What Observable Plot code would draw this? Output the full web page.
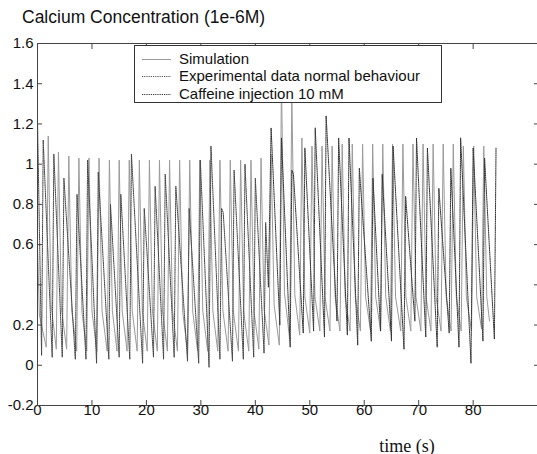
<!DOCTYPE html>
<html><head><meta charset="utf-8">
<script src="https://cdn.jsdelivr.net/npm/d3@7"></script>
<script src="https://cdn.jsdelivr.net/npm/@observablehq/plot@0.6"></script>
<style>
html,body{margin:0;padding:0;background:#fff}
body{width:537px;height:454px;overflow:hidden;position:relative;font-family:"Liberation Sans",Arial,sans-serif;color:#111}
#title{position:absolute;left:22px;top:9px;font-size:17.5px;line-height:1;white-space:nowrap}
#chart{position:absolute;left:0;top:30px}
#legend{position:absolute;left:134px;top:45px;width:308px;height:58px;border:1px solid #333;background:#fff;box-sizing:border-box}
#legend .row{position:absolute;left:0;height:18px;width:300px}
#legend svg{position:absolute;left:7px;top:8px}
#legend span{position:absolute;left:44px;top:0;font-size:15px;line-height:18px;white-space:nowrap}
</style>
</head><body>
<div id="title"></div>
<div id="chart"></div>
<div id="legend"></div>
<script>
// time (s), calcium concentration (1e-6 M)
const simulation = [
[0,0.60],[0.35,0.25],[1.6,0.09],
[1.97,1.14],[2.5,0.30],[3.45,0.08],
[3.85,1.06],[4.4,0.28],[5.35,0.08],
[5.75,1.04],[6.3,0.27],[7.2,0.07],
[7.6,1.03],[8.15,0.27],[9.05,0.07],
[9.45,1.03],[10.0,0.27],[10.9,0.07],
[11.3,1.03],[11.85,0.27],[12.8,0.07],
[13.2,1.02],[13.75,0.27],[14.6,0.07],
[15.0,1.02],[15.55,0.27],[16.45,0.07],
[16.85,1.02],[17.4,0.27],[18.3,0.07],
[18.7,1.02],[19.25,0.27],[20.15,0.07],
[20.55,1.02],[21.1,0.27],[22.0,0.07],
[22.4,1.02],[22.95,0.27],[23.85,0.07],
[24.25,1.02],[24.8,0.27],[25.7,0.07],
[26.1,1.02],[26.65,0.27],[27.55,0.07],
[27.95,1.02],[28.5,0.27],[29.4,0.07],
[29.8,1.02],[30.35,0.27],[31.25,0.07],
[31.65,1.02],[32.2,0.27],[33.1,0.07],
[33.5,1.02],[34.05,0.27],[35.0,0.07],
[35.4,1.02],[35.95,0.27],[36.9,0.07],
[37.3,1.02],[37.85,0.27],[38.8,0.07],
[39.2,1.02],[39.75,0.27],[40.65,0.08],
[41.05,1.03],[41.6,0.28],[42.5,0.10],
[42.9,1.05],[43.45,0.30],[44.4,0.10],
[44.8,1.42],[45.35,0.36],[46.3,0.13],
[46.7,1.35],[47.25,0.35],[48.15,0.15],
[48.55,1.13],[49.1,0.34],[50.0,0.16],
[50.4,1.09],[50.95,0.34],[51.85,0.17],
[52.25,1.09],[52.8,0.34],[53.7,0.17],
[54.1,1.09],[54.65,0.34],[55.55,0.17],
[55.95,1.10],[56.5,0.34],[57.4,0.17],
[57.8,1.10],[58.35,0.34],[59.3,0.17],
[59.7,1.10],[60.25,0.34],[61.15,0.17],
[61.55,1.10],[62.1,0.34],[63.0,0.17],
[63.4,1.10],[63.95,0.34],[64.8,0.17],
[65.2,1.10],[65.75,0.34],[66.7,0.17],
[67.1,1.10],[67.65,0.34],[68.55,0.17],
[68.95,1.10],[69.5,0.34],[70.4,0.17],
[70.8,1.10],[71.35,0.34],[72.25,0.17],
[72.65,1.10],[73.2,0.34],[74.1,0.17],
[74.5,1.10],[75.05,0.34],[75.95,0.17],
[76.35,1.10],[76.9,0.34],[77.8,0.17],
[78.2,1.09],[78.75,0.34],[79.7,0.17],
[80.1,1.09],[80.65,0.34],[81.55,0.18],
[81.95,1.09],[82.5,0.34],[83.0,0.22]
];
const experimental = [
[0,1.22],[0.75,0.05],[1.05,1.12],
[2.7,0.04],[3.0,1.05],
[4.55,0.04],[4.85,0.93],
[6.95,0.03],[7.25,0.85],
[8.9,0.03],[9.2,1.02],
[10.85,0.01],[11.15,0.96],
[13.1,0.03],[13.4,0.80],
[15.0,0.04],[15.3,0.85],
[16.95,0.03],[17.25,1.05],
[19.3,0.01],[19.6,0.78],
[21.3,0.04],[21.6,0.89],
[23.15,0.03],[23.45,0.95],
[25.1,0.04],[25.4,0.89],
[27.55,0.02],[27.85,0.78],
[29.6,0.01],[29.9,1.02],
[31.5,-0.01],[31.85,1.09],
[33.5,0.03],[33.8,0.78],[34.1,0.76],
[35.8,0.02],[36.1,0.97],
[37.8,0.03],[38.1,1.00],
[39.7,0.04],[40.0,0.93],
[41.6,0.06],[41.9,0.71],[42.4,0.39]
];
const caffeine = [
[42.4,0.39],[42.9,1.18],
[44.5,0.20],[44.8,1.13],
[46.4,0.09],[46.7,0.97],[47.0,0.95],
[48.8,0.16],[49.1,1.08],
[50.7,0.17],[51.0,1.18],
[52.7,0.14],[53.0,1.24],
[55.0,0.22],[55.3,1.13],
[56.9,0.15],[57.2,1.13],
[58.8,0.10],[59.1,0.98],
[61.3,0.12],[61.6,0.93],
[63.0,0.17],[63.3,0.95],
[65.0,0.12],[65.3,1.09],
[67.3,0.08],[67.6,0.84],
[69.3,0.22],[69.6,1.13],
[71.3,0.14],[71.6,1.08],
[73.4,0.09],[73.7,0.88],
[75.6,0.16],[75.9,0.98],
[77.4,0.09],[77.7,1.13],
[79.6,0.01],[80.0,1.08],
[81.8,0.12],[82.1,1.03],
[83.9,0.13],[84.2,1.08]
];
const xTicks = [0,10,20,30,40,50,60,70,80];
const yTicks = [-0.2,0,0.2,0.4,0.6,0.8,1,1.2,1.4,1.6];
const yTickLabels = ["-0.2","0","0.2","","0.6","0.8","1","1.2","1.4","1.6"];
const seriesNames = ["Simulation","Experimental data normal behaviour","Caffeine injection 10 mM"];
const titleText = "Calcium Concentration (1e-6M)";
const xLabel = "time (s)";

const toRows = arr => arr.map(([t, ca]) => ({t, ca}));

const chart = Plot.plot({
  width: 540, height: 424,
  marginLeft: 37, marginRight: 2, marginTop: 13, marginBottom: 49,
  style: {fontFamily: "'Liberation Sans', Arial, sans-serif", fontSize: "15px", color: "#111", background: "white", overflow: "visible", maxWidth: "none"},
  x: {domain: [0, 92]},
  y: {domain: [-0.2, 1.6]},
  marks: [
    Plot.line(toRows(simulation), {x: "t", y: "ca", stroke: "#9a9a9a", strokeWidth: 1}),
    Plot.line(toRows(experimental), {x: "t", y: "ca", stroke: "#444", strokeWidth: 1, strokeDasharray: "1.2,1"}),
    Plot.line(toRows(caffeine), {x: "t", y: "ca", stroke: "#333", strokeWidth: 1, strokeDasharray: "1.2,1"}),
    Plot.frame({stroke: "#444"}),
    Plot.axisX({ticks: xTicks, tickSize: -5, tickPadding: 4, tickFormat: d => String(d), label: null, stroke: "#444"}),
    Plot.axisX({anchor: "top", ticks: xTicks, tickSize: -5, tickFormat: () => "", label: null, stroke: "#444"}),
    Plot.axisY({ticks: yTicks, tickSize: -5, tickPadding: 9, tickFormat: d => yTickLabels[yTicks.indexOf(d)], label: null, stroke: "#444"}),
    Plot.axisY({anchor: "right", ticks: yTicks, tickSize: -5, tickFormat: () => "", label: null, stroke: "#444"}),
    Plot.text([xLabel], {frameAnchor: "bottom", dx: 119, dy: 46, fontFamily: "'Liberation Serif', 'Times New Roman', serif", fontSize: 18, fill: "#111"})
  ]
});
chart.style.maxWidth = "none";
document.getElementById("chart").appendChild(chart);
document.getElementById("title").textContent = titleText;

const legendStyles = [
  {stroke: "#999", dash: null},
  {stroke: "#555", dash: "1.2,1"},
  {stroke: "#333", dash: "1.2,1"}
];
const legend = document.getElementById("legend");
const rowTops = [4, 21, 39];
seriesNames.forEach((name, i) => {
  const row = document.createElement("div");
  row.className = "row";
  row.style.top = rowTops[i] + "px";
  const s = legendStyles[i];
  row.innerHTML = `<svg width="30" height="3"><line x1="0" y1="1.5" x2="29" y2="1.5" stroke="${s.stroke}" stroke-width="1"${s.dash ? ` stroke-dasharray="${s.dash}"` : ""}/></svg><span></span>`;
  row.querySelector("span").textContent = name;
  legend.appendChild(row);
});
</script>
</body></html>
